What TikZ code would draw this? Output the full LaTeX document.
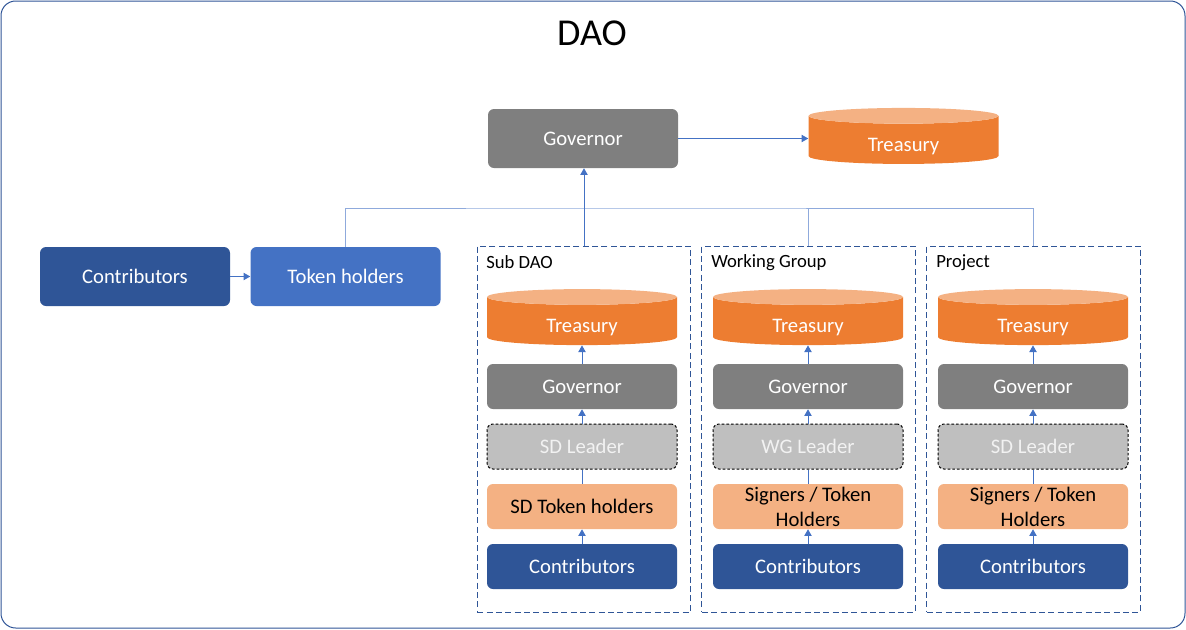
\documentclass[tikz,border=0pt]{standalone}
\usepackage{fontspec}
\setmainfont{Carlito}
\usetikzlibrary{shapes.geometric,arrows.meta}
\definecolor{daoblue}{HTML}{2F5597}
\definecolor{tokenblue}{HTML}{4472C4}
\definecolor{daogray}{HTML}{7F7F7F}
\definecolor{leadergray}{HTML}{BFBFBF}
\definecolor{daoorange}{HTML}{ED7D31}
\definecolor{daolight}{HTML}{F4B183}
\definecolor{buslight}{HTML}{8FAADC}

\begin{document}
\begin{tikzpicture}[x=0.75pt,y=-0.75pt]
        \tikzstyle{box}=[rounded corners=4.5pt,minimum width=142.5pt,minimum height=33.75pt,inner sep=0pt,align=center,text=white,font=\fontsize{15.5}{18.75}\selectfont,node distance=45pt]
        \tikzstyle{big box}=[box,minimum height=44.25pt]
        \tikzstyle{leader box}=[box,fill=leadergray,draw=black,line width=0.75pt,dash pattern=on 2pt off 1.5pt,text=white!95!black]
        \tikzstyle{tank}=[cylinder,shape border rotate=90,aspect=0.22,cylinder uses custom fill,cylinder body fill=daoorange,cylinder end fill=daolight,minimum width=142.5pt,minimum height=42pt,inner sep=0pt,text=white,text height=19pt,text depth=1.6pt,font=\fontsize{15.5}{18.75}\selectfont]
        \tikzstyle{group}=[draw=daoblue,line width=0.75pt,dash pattern=on 4.5pt off 2.5pt,minimum width=160pt,minimum height=274.5pt]
        \tikzstyle{tag}=[anchor=west,inner sep=0pt,font=\fontsize{14}{17}\selectfont]
        \tikzstyle{link}=[draw=tokenblue,line width=0.75pt,-{Triangle[width=5.5pt,length=5pt]}]
        \tikzstyle{plain link}=[draw=tokenblue,line width=0.75pt]
        \tikzstyle{bus}=[draw=buslight,line width=0.75pt]

        \useasboundingbox (0,0) rectangle (1186,629);
        \draw[daoblue,line width=0.75pt,rounded corners=11pt] (1,1) rectangle (1185,628);
        \node[inner sep=0pt,font=\fontsize{28.5}{34}\selectfont] (Title) at (592,33) {DAO};

        \node[big box,fill=daogray] (Governor) at (583,138.5) {Governor};
        \node[tank] (Treasury) at (903.5,140) {Treasury};
        \node[big box,fill=daoblue] (Contributors) at (135,276.5) {Contributors};
        \node[big box,fill=tokenblue] (TokenHolders) at (345.5,276.5) {Token holders};

        \node[group] (SubDAO) at (584,429) {};
        \node[group] (WG) at (808.5,429) {};
        \node[group] (Project) at (1033.5,429) {};
        \node[tag] (SubDAOTag) at (486,262.5) {Sub DAO};
        \node[tag] (WGTag) at (711,262.5) {Working Group};
        \node[tag] (ProjectTag) at (936,262.5) {Project};

        \node[box,fill=daoblue] (SDContributors) at (582,566.5) {Contributors};
        \node[box,fill=daolight,text=black] (SDTokenHolders) [above of=SDContributors] {SD Token holders};
        \node[leader box] (SDLeader) [above of=SDTokenHolders] {SD Leader};
        \node[box,fill=daogray] (SDGovernor) [above of=SDLeader] {Governor};
        \node[tank] (SDTreasury) [above of=SDGovernor,node distance=49pt] {Treasury};

        \node[box,fill=daoblue] (WGContributors) at (808,566.5) {Contributors};
        \node[box,fill=daolight,text=black] (WGSigners) [above of=WGContributors] {Signers / Token\\Holders};
        \node[leader box] (WGLeader) [above of=WGSigners] {WG Leader};
        \node[box,fill=daogray] (WGGovernor) [above of=WGLeader] {Governor};
        \node[tank] (WGTreasury) [above of=WGGovernor,node distance=49pt] {Treasury};

        \node[box,fill=daoblue] (PContributors) at (1033,566.5) {Contributors};
        \node[box,fill=daolight,text=black] (PSigners) [above of=PContributors] {Signers / Token\\Holders};
        \node[leader box] (PLeader) [above of=PSigners] {SD Leader};
        \node[box,fill=daogray] (PGovernor) [above of=PLeader] {Governor};
        \node[tank] (PTreasury) [above of=PGovernor,node distance=49pt] {Treasury};

        \coordinate (Bus) at (584,208);

        \draw[link] (Governor.east) -- (Governor.east -| Treasury.west);
        \draw[link] (Contributors) -- (TokenHolders);
        \draw[bus] (TokenHolders.north) |- (Bus) -| (Project.north);
        \draw[bus] (WG.north) -- (WG.north |- Bus);
        \draw[link] (SubDAO.north) -- (SubDAO.north |- Governor.south);

        \draw[link] (SDContributors) -- (SDTokenHolders);
        \draw[plain link] (SDTokenHolders) -- (SDLeader);
        \draw[link] (SDLeader) -- (SDGovernor);
        \draw[link] (SDGovernor) -- (SDTreasury);

        \draw[link] (WGContributors) -- (WGSigners);
        \draw[plain link] (WGSigners) -- (WGLeader);
        \draw[link] (WGLeader) -- (WGGovernor);
        \draw[link] (WGGovernor) -- (WGTreasury);

        \draw[link] (PContributors) -- (PSigners);
        \draw[plain link] (PSigners) -- (PLeader);
        \draw[link] (PLeader) -- (PGovernor);
        \draw[link] (PGovernor) -- (PTreasury);
    \end{tikzpicture}
\end{document}
